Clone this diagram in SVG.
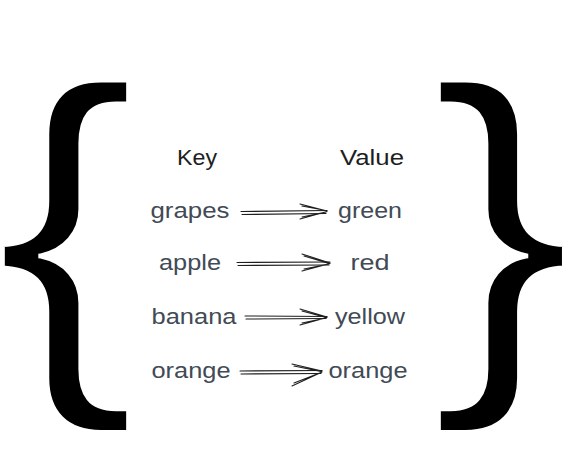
<svg xmlns="http://www.w3.org/2000/svg" width="577" height="451" viewBox="0 0 577 451">
<style>
.brace{font-family:"Liberation Sans",Arial,sans-serif;font-size:378px;fill:#000;stroke:#fff;stroke-width:5}
.hd{font-family:"Liberation Sans",Arial,sans-serif;font-size:22px;fill:#1e1e1e;text-anchor:middle}
.it{font-family:"Liberation Sans",Arial,sans-serif;font-size:22px;fill:#414a55;text-anchor:middle}
.ar{fill:none;stroke:#1e1e1e;stroke-width:1.1;stroke-linecap:round}
</style>
<rect width="577" height="451" fill="#fff"/>
<g id="brace-left"><text class="brace" transform="translate(-5,354) scale(1.12,1)">{</text></g>
<g id="brace-right"><text class="brace" transform="translate(431,354) scale(1.12,1)">}</text></g>
<g id="key-header"><text class="hd" x="197" y="165" textLength="40" lengthAdjust="spacingAndGlyphs">Key</text></g>
<g id="value-header"><text class="hd" x="372" y="165" textLength="64" lengthAdjust="spacingAndGlyphs">Value</text></g>
<g id="k-grapes"><text class="it" x="190" y="218" textLength="79" lengthAdjust="spacingAndGlyphs">grapes</text></g>
<g id="v-green"><text class="it" x="370" y="218" textLength="64" lengthAdjust="spacingAndGlyphs">green</text></g>
<g id="k-apple"><text class="it" x="190" y="270" textLength="62" lengthAdjust="spacingAndGlyphs">apple</text></g>
<g id="v-red"><text class="it" x="370" y="270" textLength="39" lengthAdjust="spacingAndGlyphs">red</text></g>
<g id="k-banana"><text class="it" x="194" y="324" textLength="85" lengthAdjust="spacingAndGlyphs">banana</text></g>
<g id="v-yellow"><text class="it" x="370" y="324" textLength="70" lengthAdjust="spacingAndGlyphs">yellow</text></g>
<g id="k-orange"><text class="it" x="191" y="378" textLength="79" lengthAdjust="spacingAndGlyphs">orange</text></g>
<g id="v-orange"><text class="it" x="368" y="378" textLength="79" lengthAdjust="spacingAndGlyphs">orange</text></g>
<g id="connectors" class="ar">
<path d="M241 211.5 L327 210.5 M242 214.5 L326 213.5"/>
<path d="M300 204 L327 211 M302 206 L326 210.5 M300 219 L327 211.5 M302 217 L326 212"/>
<path d="M237 262.5 L330 262 M238 265.5 L329 265"/>
<path d="M302 254 L330 263 M304 256 L329 263.5 M302 271 L330 263.5 M304 269 L329 264"/>
<path d="M245 316 L327 316.5 M246 319 L326 318.5"/>
<path d="M300 309 L327 317 M302 311 L326 317.5 M300 325 L327 317.5 M302 323 L326 318"/>
<path d="M240 371 L322 370.5 M241 374 L321 373.5"/>
<path d="M292 364 L322 371 M294 366 L321 371.5 M292 386 L322 372 M294 383 L321 372.5"/>
</g>
</svg>
